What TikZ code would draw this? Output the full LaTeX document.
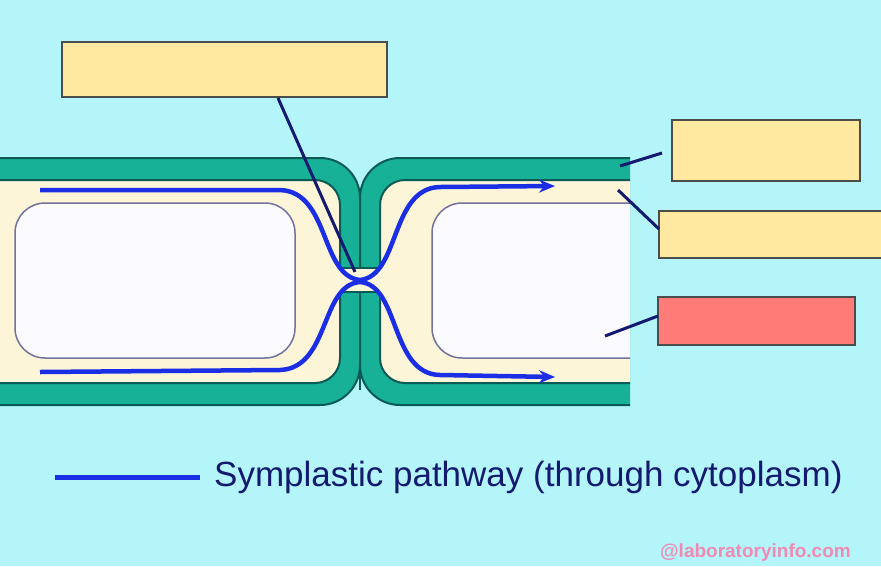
\documentclass[tikz,border=0pt]{standalone}
\usepackage{fontspec}
\setmainfont{Liberation Sans}
\usetikzlibrary{arrows.meta}
\definecolor{bg}{HTML}{B4F5FA}
\definecolor{wall}{HTML}{16B196}
\definecolor{walld}{HTML}{0C5A55}
\definecolor{cyto}{HTML}{FCF5D8}
\definecolor{vac}{HTML}{FBFAFE}
\definecolor{vacl}{HTML}{7272A0}
\definecolor{lbl}{HTML}{FFE9A0}
\definecolor{lblr}{HTML}{FF7B77}
\definecolor{path}{HTML}{1A2EE6}
\definecolor{navy}{HTML}{141A70}
\definecolor{wm}{HTML}{F08AB4}
\tikzset{
  lbox/.style={draw=black!70, line width=1.2pt, fill=lbl},
  leader/.style={draw=navy, line width=3pt},
  flow/.style={draw=path, line width=4.5pt, -{Stealth[length=16pt,width=13pt]}},
  wl/.style={walld, line width=2pt},
}
\begin{document}
\begin{tikzpicture}[x=1pt,y=-1pt]
\useasboundingbox (0,0) rectangle (881,566);
\fill[bg] (0,0) rectangle (881,566);
\begin{scope}
\clip (-5,0) rectangle (630,566);
\draw[wl, fill=wall, rounded corners=40] (-40,158) rectangle (360,405);
\draw[wl, fill=wall, rounded corners=40] (360,158) rectangle (700,405);
\draw[wl, fill=cyto, rounded corners=25] (-40,180) rectangle (340,383);
\draw[wl, fill=cyto, rounded corners=25] (380,180) rectangle (700,383);
\fill[cyto] (337,268) rectangle (383,292);
\draw[wl] (340,268) -- (380,268) (340,292) -- (380,292);
\draw[wl, line width=2.5pt] (360,195) -- (360,238) (360,338) -- (360,390);
\draw[vacl, fill=vac, line width=1.5pt, rounded corners=30] (15,203) rectangle (295,358);
\draw[vacl, fill=vac, line width=1.5pt, rounded corners=30] (432,203) rectangle (700,358);
\end{scope}
\coordinate (a1) at (40,190); \coordinate (a2) at (555,186);
\coordinate (b1) at (40,372); \coordinate (b2) at (555,377);
\draw[flow] (a1) -- (280,190) .. controls (330,192) and (320,276) .. (360,280) .. controls (400,276) and (390,188) .. (440,187) -- (a2);
\draw[flow] (b1) -- (280,370) .. controls (330,368) and (320,285) .. (360,282) .. controls (400,285) and (390,374) .. (440,375) -- (b2);
\node[lbox, minimum width=325pt, minimum height=55pt] (l1) at (224.5,69.5) {};
\node[lbox, minimum width=188pt, minimum height=61pt] (l2) at (766,150.5) {};
\node[lbox, minimum width=225pt, minimum height=47pt] (l3) at (771.5,234.5) {};
\node[lbox, fill=lblr, minimum width=197pt, minimum height=48pt] (l4) at (756.5,321) {};
\coordinate (p1) at (355,272); \coordinate (p2) at (620,166);
\coordinate (p3) at (618,190); \coordinate (p4) at (605,336);
\draw[leader] (278,98) -- (p1);
\draw[leader] (662,153) -- (p2);
\draw[leader] (659,229) -- (p3);
\draw[leader] (658,316) -- (p4);
\coordinate (g1) at (55,477); \coordinate (g2) at (200,477);
\draw[path, line width=5pt] (g1) -- (g2);
\node[anchor=west, text=navy, font=\fontsize{35}{40}\selectfont, inner sep=0] (leg) at (214,477) {Symplastic pathway (through cytoplasm)};
\node[anchor=east, text=wm, font=\bfseries\fontsize{19}{22}\selectfont, inner sep=0] (wmk) at (851,553) {@laboratoryinfo.com};
\end{tikzpicture}
\end{document}
